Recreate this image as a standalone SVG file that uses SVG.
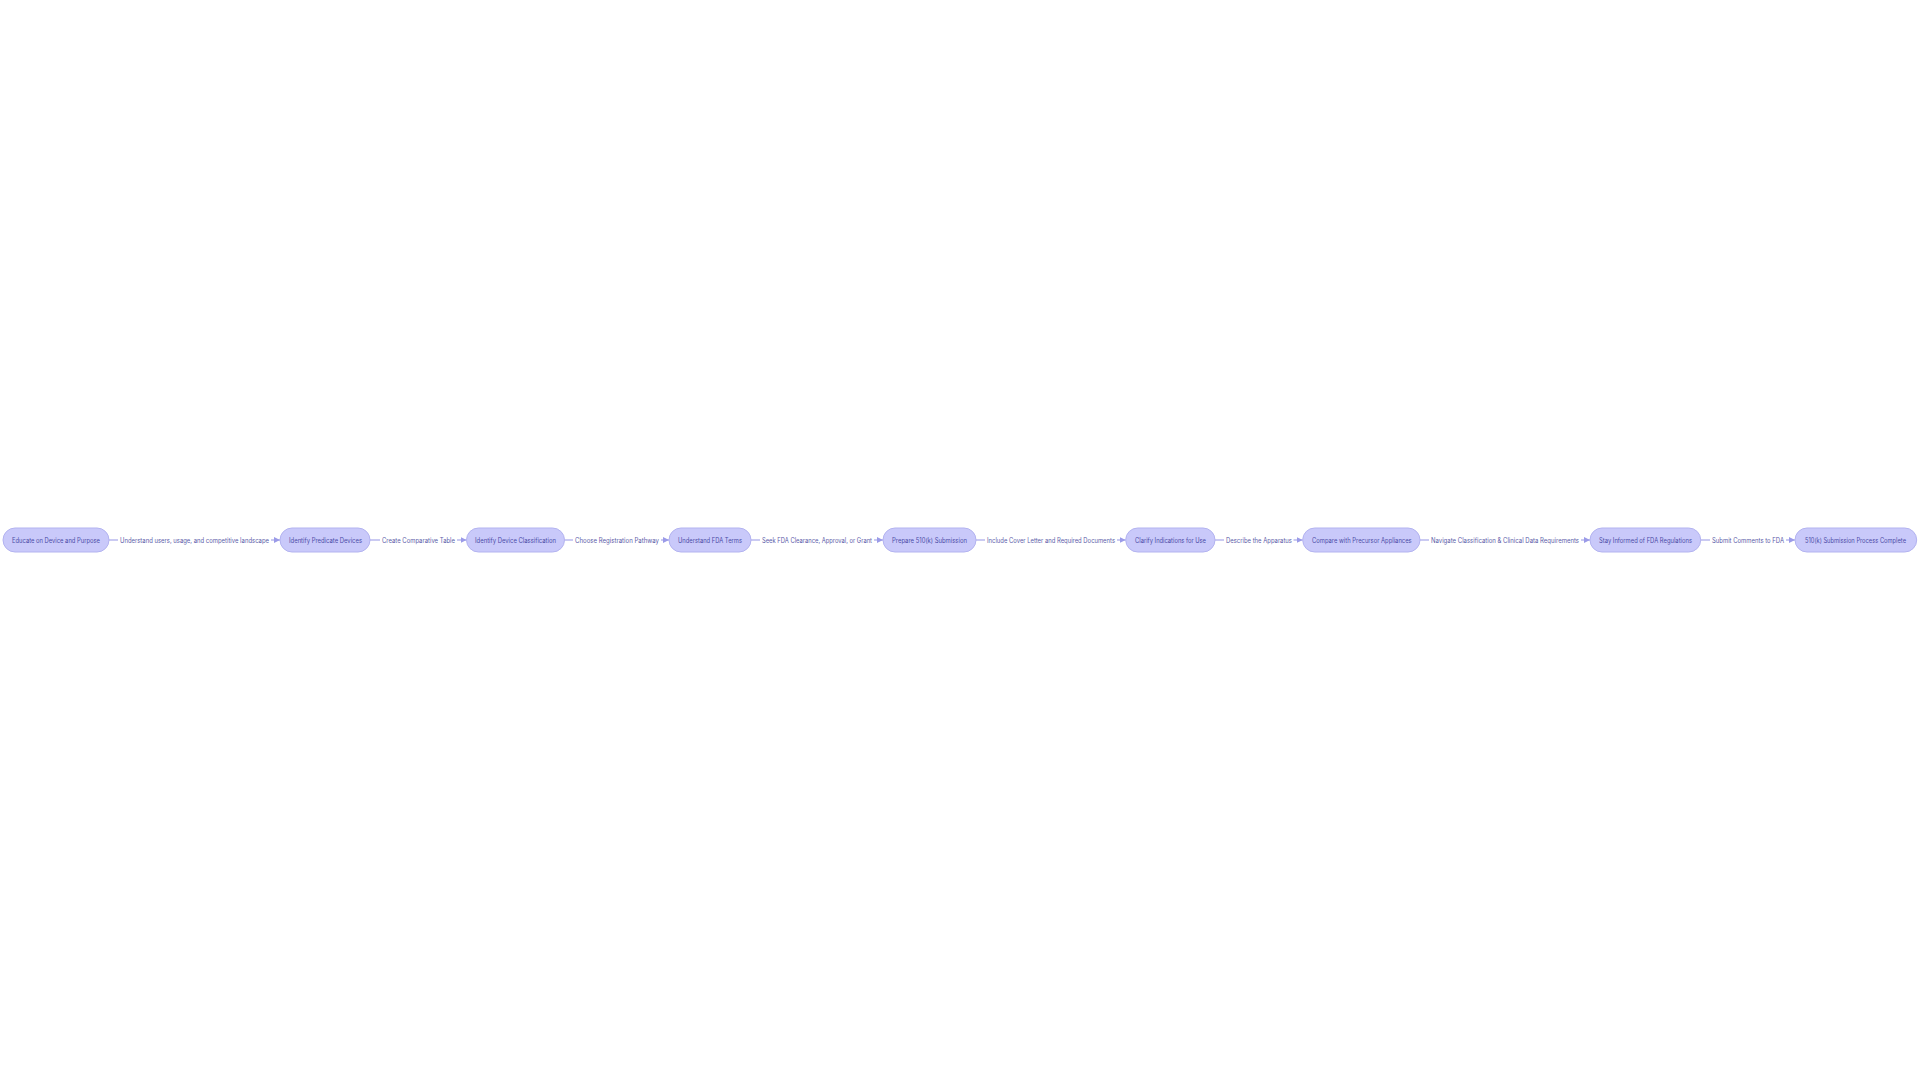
<svg xmlns="http://www.w3.org/2000/svg" width="1920" height="1080" viewBox="0 0 1920 1080">
<defs>
<marker id="arr" viewBox="0 0 10 10" refX="10" refY="5" markerWidth="6" markerHeight="6" markerUnits="userSpaceOnUse" orient="auto">
<path d="M0,0 L10,5 L0,10 z" fill="#9b9be8"/>
</marker>
<style>
.node rect{fill:#c9c9fa;stroke:#b3b3f0;stroke-width:1}
.node text{font-family:Inter,"Liberation Sans",sans-serif;font-size:7px;fill:#4a4aa6;text-anchor:start}
.edge{fill:none;stroke:#b9b9ee;stroke-width:1.3}
.elabel{font-family:Inter,"Liberation Sans",sans-serif;font-size:7px;fill:#5a5aa8}
</style>
</defs>
<rect width="1920" height="1080" fill="#ffffff"/>
<g id="connectors">
<path class="edge" d="M109,540 L118,540 M271,540 L280,540" marker-end="url(#arr)"/>
<path class="edge" d="M370,540 L380,540 M457,540 L466.5,540" marker-end="url(#arr)"/>
<path class="edge" d="M564.5,540 L573,540 M661,540 L669,540" marker-end="url(#arr)"/>
<path class="edge" d="M751,540 L760,540 M874,540 L883,540" marker-end="url(#arr)"/>
<path class="edge" d="M976,540 L985,540 M1117,540 L1125.7,540" marker-end="url(#arr)"/>
<path class="edge" d="M1215,540 L1224,540 M1293.5,540 L1302.7,540" marker-end="url(#arr)"/>
<path class="edge" d="M1420,540 L1429,540 M1581,540 L1590,540" marker-end="url(#arr)"/>
<path class="edge" d="M1700.7,540 L1710,540 M1786,540 L1795,540" marker-end="url(#arr)"/>
<text class="elabel" x="120" y="542.5" textLength="149" lengthAdjust="spacingAndGlyphs">Understand users, usage, and competitive landscape</text>
<text class="elabel" x="382" y="542.5" textLength="73" lengthAdjust="spacingAndGlyphs">Create Comparative Table</text>
<text class="elabel" x="575" y="542.5" textLength="84" lengthAdjust="spacingAndGlyphs">Choose Registration Pathway</text>
<text class="elabel" x="762" y="542.5" textLength="110" lengthAdjust="spacingAndGlyphs">Seek FDA Clearance, Approval, or Grant</text>
<text class="elabel" x="987" y="542.5" textLength="128" lengthAdjust="spacingAndGlyphs">Include Cover Letter and Required Documents</text>
<text class="elabel" x="1226" y="542.5" textLength="66" lengthAdjust="spacingAndGlyphs">Describe the Apparatus</text>
<text class="elabel" x="1431" y="542.5" textLength="148" lengthAdjust="spacingAndGlyphs">Navigate Classification &amp; Clinical Data Requirements</text>
<text class="elabel" x="1712" y="542.5" textLength="72" lengthAdjust="spacingAndGlyphs">Submit Comments to FDA</text>
</g>
<g id="n1" class="node"><rect x="3" y="528" width="106" height="24" rx="12"/><text x="12" y="542.5" textLength="88" lengthAdjust="spacingAndGlyphs">Educate on Device and Purpose</text></g>
<g id="n2" class="node"><rect x="280" y="528" width="90" height="24" rx="12"/><text x="289" y="542.5" textLength="73" lengthAdjust="spacingAndGlyphs">Identify Predicate Devices</text></g>
<g id="n3" class="node"><rect x="466.5" y="528" width="98" height="24" rx="12"/><text x="475" y="542.5" textLength="81" lengthAdjust="spacingAndGlyphs">Identify Device Classification</text></g>
<g id="n4" class="node"><rect x="669" y="528" width="82" height="24" rx="12"/><text x="678" y="542.5" textLength="64" lengthAdjust="spacingAndGlyphs">Understand FDA Terms</text></g>
<g id="n5" class="node"><rect x="883" y="528" width="93" height="24" rx="12"/><text x="892" y="542.5" textLength="75" lengthAdjust="spacingAndGlyphs">Prepare 510(k) Submission</text></g>
<g id="n6" class="node"><rect x="1125.7" y="528" width="89.3" height="24" rx="12"/><text x="1135" y="542.5" textLength="71" lengthAdjust="spacingAndGlyphs">Clarify Indications for Use</text></g>
<g id="n7" class="node"><rect x="1302.7" y="528" width="117.3" height="24" rx="12"/><text x="1312" y="542.5" textLength="99.7" lengthAdjust="spacingAndGlyphs">Compare with Precursor Appliances</text></g>
<g id="n8" class="node"><rect x="1590" y="528" width="110.7" height="24" rx="12"/><text x="1599" y="542.5" textLength="93" lengthAdjust="spacingAndGlyphs">Stay Informed of FDA Regulations</text></g>
<g id="n9" class="node"><rect x="1795" y="528" width="121.7" height="24" rx="12"/><text x="1805" y="542.5" textLength="101" lengthAdjust="spacingAndGlyphs">510(k) Submission Process Complete</text></g>
</svg>
